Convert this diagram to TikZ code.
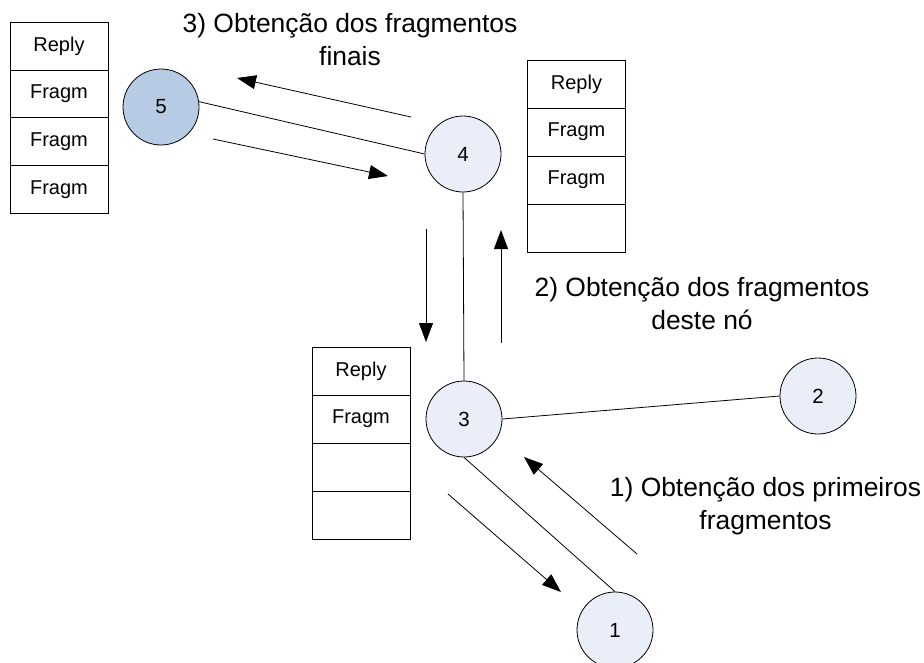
\documentclass[tikz,border=0pt]{standalone}
\usepackage{fontspec}
\setmainfont{Liberation Sans}
\usetikzlibrary{arrows.meta}
\definecolor{nodefill}{HTML}{E9EEF8}
\definecolor{darkfill}{HTML}{B8CBE4}
\tikzset{
  netnode/.style={circle, draw=black, line width=0.8pt, fill=nodefill, minimum size=76pt, inner sep=0pt, font=\fontsize{20.5}{22}\selectfont},
  cell/.style={rectangle, draw=black, line width=0.8pt, fill=white, minimum width=98pt, minimum height=48pt, inner sep=0pt, font=\fontsize{20}{22}\selectfont},
  link/.style={draw=black, line width=0.8pt},
  flow/.style={draw=black, line width=0.8pt, -{Triangle[length=19pt,width=14pt]}},
  lbl/.style={align=center, font=\fontsize{26.4}{33}\selectfont, inner sep=0pt}
}
\begin{document}
\begin{tikzpicture}[x=1pt,y=-1pt]
\useasboundingbox (0,0) rectangle (924,662);
% stacks
\node[cell] (la) at (59,46) {Reply};
\node[cell] (lb) at (59,94) {Fragm};
\node[cell] (lc) at (59,141.5) {Fragm};
\node[cell] (ld) at (59,189.5) {Fragm};
\node[cell] (ra) at (576.5,84) {Reply};
\node[cell] (rb) at (576.5,132) {Fragm};
\node[cell] (rc) at (576.5,180) {Fragm};
\node[cell] (rd) at (576.5,228) {};
\node[cell] (ma) at (361,371) {Reply};
\node[cell] (mb) at (361,419) {Fragm};
\node[cell] (mc) at (361,467) {};
\node[cell] (md) at (361,515) {};
% nodes
\node[netnode, fill=darkfill] (c5) at (161,107) {5};
\node[netnode] (c4) at (463,154) {4};
\node[netnode] (c3) at (464,419) {3};
\node[netnode] (c2) at (818,396) {2};
\node[netnode] (c1) at (615,630) {1};
% links
\draw[link] (c5.8) -- (c4.west);
\draw[link] (c4.south) -- (c3.north);
\draw[link] (c3.east) -- (c2.west);
\draw[link] (c3.south) -- (c1.north);
% flow arrows
\coordinate (a1s) at (411,117); \coordinate (a1e) at (237,78);
\coordinate (a2s) at (213,139); \coordinate (a2e) at (388,176);
\coordinate (a3s) at (426,229); \coordinate (a3e) at (426,342);
\coordinate (a4s) at (501,343); \coordinate (a4e) at (501,230);
\coordinate (a5s) at (637,554); \coordinate (a5e) at (524,457);
\coordinate (a6s) at (448,494); \coordinate (a6e) at (561,592);
\draw[flow] (a1s) -- (a1e);
\draw[flow] (a2s) -- (a2e);
\draw[flow] (a3s) -- (a3e);
\draw[flow] (a4s) -- (a4e);
\draw[flow] (a5s) -- (a5e);
\draw[flow] (a6s) -- (a6e);
% labels
\node[lbl] (t3) at (350,40) {3) Obtenção dos fragmentos\\finais};
\node[lbl] (t2) at (702,304) {2) Obtenção dos fragmentos\\deste nó};
\node[lbl] (t1) at (765.5,506) {1) Obtenção dos primeiros\\fragmentos};
\end{tikzpicture}
\end{document}
